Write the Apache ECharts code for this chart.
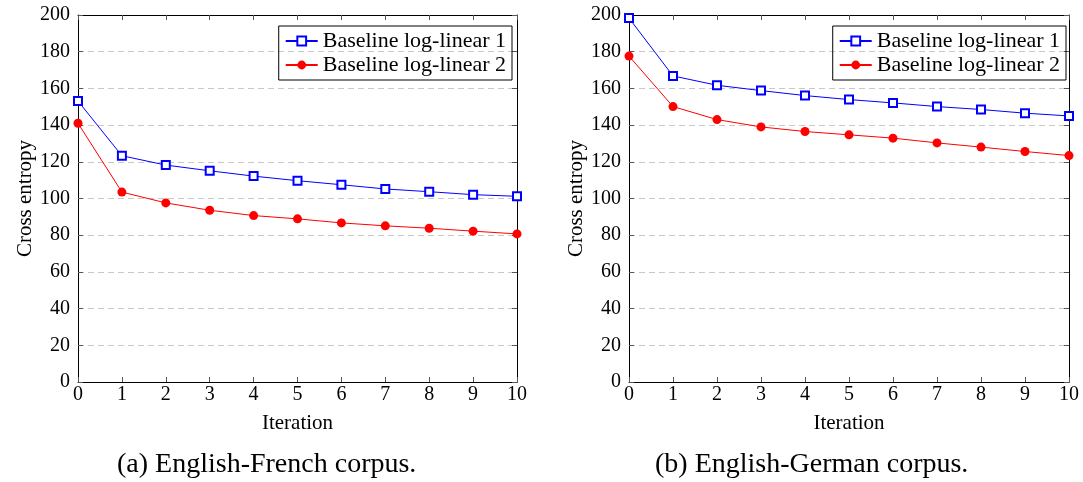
<!DOCTYPE html>
<html>
<head>
<meta charset="utf-8">
<script src="https://cdn.jsdelivr.net/npm/echarts@6/dist/echarts.min.js"></script>
<style>
html,body{margin:0;padding:0;background:#fff;}
#main{width:1083px;height:482px;}
</style>
</head>
<body>
<div id="main"></div>
<script>
const iterations = [0,1,2,3,4,5,6,7,8,9,10];
const seriesNames = ['Baseline log-linear 1','Baseline log-linear 2'];
const frBaseline1 = [153.1,123.3,118.2,115.1,112.2,109.7,107.5,105.2,103.7,102.1,101.2];
const frBaseline2 = [141.0,103.5,97.6,93.6,90.7,88.9,86.7,85.1,83.8,82.2,80.7];
const deBaseline1 = [198.3,166.8,161.7,158.8,156.1,153.9,152.1,150.1,148.5,146.5,145.0];
const deBaseline2 = [177.6,150.1,143.0,139.0,136.5,134.7,132.9,130.3,128.0,125.6,123.4];
const yTicks = [0,20,40,60,80,100,120,140,160,180,200];
const captions = ['(a) English-French corpus.','(b) English-German corpus.'];
const xName = 'Iteration';
const yName = 'Cross entropy';

const FONT = 'Liberation Serif';
const grids = [
  {left:78, top:15, width:439, height:367},
  {left:629, top:15, width:440, height:367}
];

const tickStyle = {show:true, inside:true, length:5, lineStyle:{color:'#555', width:1}};
const lineStyleAx = {show:true, onZero:false, lineStyle:{color:'#000', width:1}};

const xAxes = [], yAxes = [];
grids.forEach((g, i) => {
  xAxes.push({
    type:'value', gridIndex:i, min:0, max:10, interval:1, position:'bottom',
    name:xName, nameLocation:'middle', nameGap:31,
    nameTextStyle:{fontFamily:FONT, fontSize:21, color:'#000'},
    axisLine:lineStyleAx, axisTick:tickStyle,
    axisLabel:{show:true, fontFamily:FONT, fontSize:20, color:'#000', margin:3},
    splitLine:{show:false}
  });
  xAxes.push({
    type:'value', gridIndex:i, min:0, max:10, interval:1, position:'top',
    axisLine:lineStyleAx, axisTick:tickStyle,
    axisLabel:{show:false}, splitLine:{show:false}
  });
  yAxes.push({
    type:'value', gridIndex:i, min:0, max:200, interval:20, position:'left',
    name:yName, nameLocation:'middle', nameGap:41,
    nameTextStyle:{fontFamily:FONT, fontSize:21, color:'#000'},
    axisLine:lineStyleAx, axisTick:tickStyle,
    axisLabel:{show:true, fontFamily:FONT, fontSize:20, color:'#000', margin:8,
      formatter: v => yTicks.includes(v) ? String(v) : ''},
    splitLine:{show:true, lineStyle:{color:'#c8c8c8', type:[6,4], width:1}}
  });
  yAxes.push({
    type:'value', gridIndex:i, min:0, max:200, interval:20, position:'right',
    axisLine:lineStyleAx, axisTick:tickStyle,
    axisLabel:{show:false}, splitLine:{show:false}
  });
});

function mk(name, data, axisIdx, isBlue){
  return {
    name:name, type:'line', xAxisIndex:axisIdx*2, yAxisIndex:axisIdx*2,
    data: iterations.map((x, k) => [x, data[k]]),
    symbol: isBlue ? 'emptyRect' : 'circle',
    symbolSize: isBlue ? 8 : 9,
    showAllSymbol:true,
    lineStyle:{color: isBlue ? '#0000ff' : '#ff0000', width:1},
    itemStyle:{color: isBlue ? '#0000ff' : '#ff0000', borderWidth: isBlue ? 1 : 0},
    animation:false
  };
}

const series = [
  mk(seriesNames[0], frBaseline1, 0, true),
  mk(seriesNames[1], frBaseline2, 0, false),
  mk(seriesNames[0], deBaseline1, 1, true),
  mk(seriesNames[1], deBaseline2, 1, false)
];

const legendBase = {
  orient:'vertical', top:26, data:seriesNames,
  borderColor:'#000', borderWidth:1, borderRadius:0,
  padding:[4,6,4,6], itemGap:2, itemWidth:32, itemHeight:11,
  textStyle:{fontFamily:FONT, fontSize:22, color:'#000'},
  selectedMode:false
};

const chart = echarts.init(document.getElementById('main'), null, {renderer:'canvas'});
chart.setOption({
  animation:false,
  backgroundColor:'#fff',
  grid: grids.map(g => Object.assign({containLabel:false}, g)),
  xAxis:xAxes, yAxis:yAxes,
  legend:[
    Object.assign({}, legendBase, {right:571}),
    Object.assign({}, legendBase, {right:17})
  ],
  series:series,
  graphic:[
    {type:'text', left:117, top:451, style:{text:captions[0], fontFamily:FONT, fontSize:28, fill:'#000'}},
    {type:'text', left:655, top:451, style:{text:captions[1], fontFamily:FONT, fontSize:28, fill:'#000'}}
  ]
});
</script>
</body>
</html>
